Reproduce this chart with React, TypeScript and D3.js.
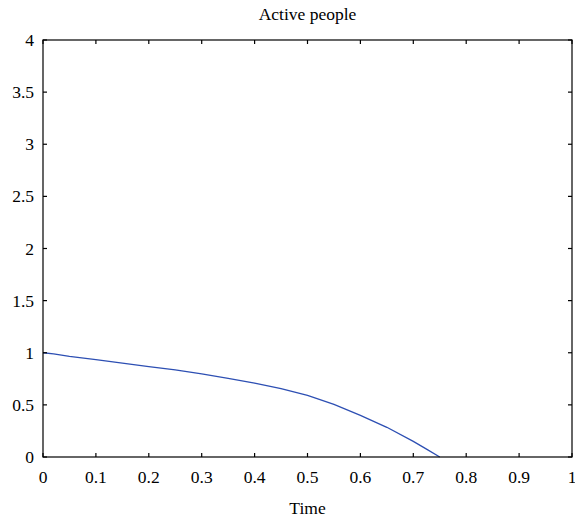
import React from "react";
import * as d3 from "d3";

const timeValues = [0, 0.02, 0.05, 0.1, 0.15, 0.2, 0.25, 0.3, 0.35, 0.4, 0.45, 0.5, 0.55, 0.6, 0.65, 0.7, 0.725, 0.75];
const activeValues = [1.0, 0.99, 0.965, 0.935, 0.9, 0.867, 0.835, 0.797, 0.755, 0.708, 0.655, 0.59, 0.505, 0.4, 0.285, 0.15, 0.075, 0];
const xTicks = [0, 0.1, 0.2, 0.3, 0.4, 0.5, 0.6, 0.7, 0.8, 0.9, 1];
const yTicks = [0, 0.5, 1, 1.5, 2, 2.5, 3, 3.5, 4];

const W = 575, H = 519;
const L = 43, R = 572, T = 40, B = 457;
const FONT = "'Liberation Serif', 'DejaVu Serif', serif";
const FS = 17.5;

export default function App() {
  const x = d3.scaleLinear().domain([0, 1]).range([L, R]);
  const y = d3.scaleLinear().domain([0, 4]).range([B, T]);
  const pts = timeValues.map((t, i) => [t, activeValues[i]] as [number, number]);
  const line = d3.line<[number, number]>().x(d => x(d[0])).y(d => y(d[1]));
  const tl = 4;
  return (
    <svg width={W} height={H} style={{ position: "absolute", left: 0, top: 0, background: "#fff" }}>
      <rect x={0} y={0} width={W} height={H} fill="#fff" />
      <text x={(L + R) / 2} y={20} textAnchor="middle" fontFamily={FONT} fontSize={FS}>Active people</text>
      <path d={line(pts) || ""} fill="none" stroke="#2d4fb3" strokeWidth={1.3} />
      <rect x={L} y={T} width={R - L} height={B - T} fill="none" stroke="#000" strokeWidth={1.2} />
      {xTicks.map(t => (
        <g key={"x" + t}>
          <line x1={x(t)} x2={x(t)} y1={B} y2={B - tl} stroke="#000" strokeWidth={1.2} />
          <line x1={x(t)} x2={x(t)} y1={T} y2={T + tl} stroke="#000" strokeWidth={1.2} />
          <text x={x(t)} y={B + 26} textAnchor="middle" fontFamily={FONT} fontSize={FS}>{String(t)}</text>
        </g>
      ))}
      {yTicks.map(t => (
        <g key={"y" + t}>
          <line x1={L} x2={L + tl} y1={y(t)} y2={y(t)} stroke="#000" strokeWidth={1.2} />
          <line x1={R} x2={R - tl} y1={y(t)} y2={y(t)} stroke="#000" strokeWidth={1.2} />
          <text x={L - 9} y={y(t) + 6} textAnchor="end" fontFamily={FONT} fontSize={FS}>{String(t)}</text>
        </g>
      ))}
      <text x={(L + R) / 2} y={514} textAnchor="middle" fontFamily={FONT} fontSize={FS}>Time</text>
    </svg>
  );
}
